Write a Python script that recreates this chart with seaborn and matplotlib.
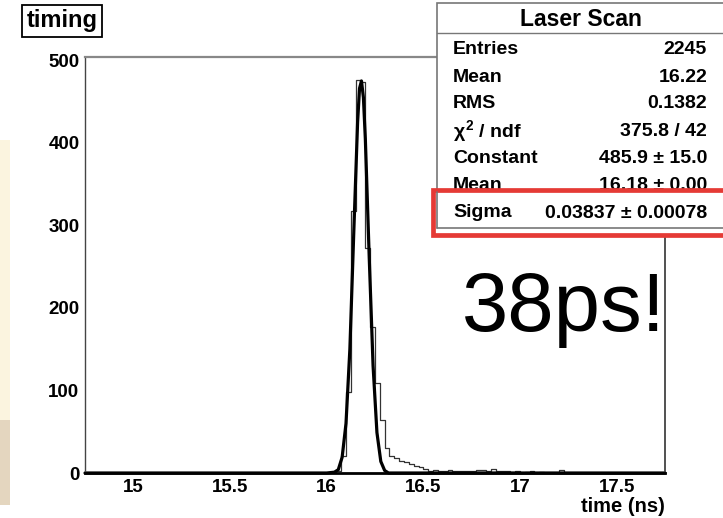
import numpy as np
import pandas as pd
import matplotlib
matplotlib.use("Agg")
import matplotlib.pyplot as plt
import seaborn as sns
from matplotlib.patches import Rectangle
from matplotlib.lines import Line2D
from matplotlib.ticker import MultipleLocator, FuncFormatter

W, H = 723, 518

# histogram "timing": 120 bins (25 ps) between 14.75 and 17.75 ns
time_lo, time_hi, n_bins = 14.75, 17.75, 120
peak_start = 16.05
peak_counts = [3, 20, 98, 318, 476, 474, 272, 177, 109, 64,
               30, 21, 18, 15, 13, 11, 8, 7, 5, 3,
               4, 2, 3, 4, 2, 3, 2, 3, 2, 4,
               4, 3, 5, 2, 2, 2, 1, 2, 0, 1,
               2, 0, 1, 0, 0, 0, 4]

# gaussian fit curve
fit_time = [14.75, 16.00, 16.04, 16.06, 16.08, 16.10, 16.12, 16.14, 16.16, 16.17,
            16.18, 16.19, 16.20, 16.22, 16.24, 16.26, 16.28, 16.30, 16.32, 17.75]
fit_value = [0, 0, 1, 4, 19, 60, 150, 290, 425, 466,
             475, 455, 405, 262, 130, 49, 14, 3, 0, 0]

stat_title = "Laser Scan"
stat_labels = ["Entries", "Mean", "RMS", r"$\chi^{2}$ / ndf", "Constant", "Mean"]
stat_values = ["2245", "16.22", "0.1382", "375.8 / 42", "485.9 ± 15.0", "16.18 ± 0.00"]
sigma_label = "Sigma"
sigma_value = "0.03837 ± 0.00078"


def px(x, y):
    # pixel position (from top-left) -> figure fraction
    return x / W, 1 - y / H


def main():
    sns.set_style("white")
    plt.rcParams['font.family'] = ['Liberation Sans', 'DejaVu Sans']
    plt.rcParams['text.color'] = 'black'
    plt.rcParams['xtick.color'] = 'black'
    plt.rcParams['ytick.color'] = 'black'
    plt.rcParams['axes.labelcolor'] = 'black'
    plt.rcParams['mathtext.fontset'] = 'custom'
    plt.rcParams['mathtext.rm'] = 'Liberation Sans:bold'
    plt.rcParams['mathtext.it'] = 'Liberation Sans:bold'
    plt.rcParams['mathtext.bf'] = 'Liberation Sans:bold'

    bin_w = (time_hi - time_lo) / n_bins
    edges = np.linspace(time_lo, time_hi, n_bins + 1)
    counts = np.zeros(n_bins)
    i0 = int(round((peak_start - time_lo) / bin_w))
    counts[i0:i0 + len(peak_counts)] = peak_counts
    hist_df = pd.DataFrame({"time": edges[:-1] + bin_w / 2, "count": counts})

    fig = plt.figure(figsize=(W / 100, H / 100), dpi=100)
    ax = fig.add_axes([85 / W, 1 - 473 / H, (665 - 85) / W, (473 - 57) / H])

    sns.histplot(data=hist_df, x="time", weights="count", bins=list(edges), element="step",
                 fill=False, color="#333333", linewidth=0.9, ax=ax)
    sns.lineplot(x=fit_time, y=fit_value, color="black", linewidth=2.3, ax=ax,
                 sort=False, clip_on=False)

    ax.set_xlim(time_lo, time_hi)
    ax.set_ylim(0, 504)
    ax.set_ylabel("")
    ax.set_xlabel("time (ns)", loc="right", fontsize=14.5, fontweight="bold", labelpad=1)

    ax.xaxis.set_major_locator(MultipleLocator(0.5))
    ax.xaxis.set_minor_locator(MultipleLocator(0.1))
    ax.yaxis.set_major_locator(MultipleLocator(100))
    ax.yaxis.set_minor_locator(MultipleLocator(20))
    ax.xaxis.set_major_formatter(FuncFormatter(lambda v, p: "%g" % v))
    ax.tick_params(axis="x", which="major", direction="in", length=8.5, width=0.8,
                   color="#333333", labelsize=13.5, pad=4)
    ax.tick_params(axis="x", which="minor", direction="in", length=4.7, width=0.8, color="#333333")
    ax.tick_params(axis="y", which="major", direction="in", length=11, width=0.8,
                   color="#333333", labelsize=13.5, pad=4)
    ax.tick_params(axis="y", which="minor", direction="in", length=6.5, width=0.8, color="#333333")
    for lab in ax.get_xticklabels() + ax.get_yticklabels():
        lab.set_fontweight("bold")

    ax.spines["bottom"].set_linewidth(2.0)
    ax.spines["bottom"].set_color("black")
    ax.spines["left"].set_linewidth(1.0)
    ax.spines["left"].set_color("#444444")
    ax.spines["top"].set_linewidth(1.6)
    ax.spines["top"].set_color("#888888")
    ax.spines["right"].set_linewidth(1.2)
    ax.spines["right"].set_color("#333333")

    # beige strip at the left edge of the slide
    fig.patches.append(Rectangle(px(0, 420), 10 / W, 280 / H, transform=fig.transFigure,
                                 facecolor="#fbf4df", edgecolor="none", zorder=1))
    fig.patches.append(Rectangle(px(0, 505), 10 / W, 85 / H, transform=fig.transFigure,
                                 facecolor="#e4d6bf", edgecolor="none", zorder=1))

    # histogram title box
    fig.text(*px(62, 21), "timing", ha="center", va="center", fontsize=17,
             fontweight="bold", zorder=5,
             bbox=dict(boxstyle="square,pad=0.18", facecolor="white", edgecolor="black", linewidth=1.3))

    # stats box
    fig.patches.append(Rectangle(px(437, 228), (W + 5 - 437) / W, (228 - 3) / H,
                                 transform=fig.transFigure, facecolor="white",
                                 edgecolor="#777777", linewidth=1.2, zorder=2))
    fig.lines.append(Line2D([437 / W, 1.0], [1 - 33 / H, 1 - 33 / H], transform=fig.transFigure,
                            color="#777777", linewidth=1.0, zorder=2.1))
    fig.text(*px(581, 20), stat_title, ha="center", va="center", fontsize=16.5,
             fontweight="bold", zorder=3)
    row_y = [50, 77, 104, 131, 159, 186]
    for lab, val, y in zip(stat_labels, stat_values, row_y):
        fig.text(*px(453, y), lab, ha="left", va="center", fontsize=14, fontweight="bold", zorder=3)
        fig.text(*px(707, y), val, ha="right", va="center", fontsize=14, fontweight="bold", zorder=3)

    # red highlight over the sigma row
    fig.patches.append(Rectangle(px(433, 235), (W + 10 - 433) / W, (235 - 190) / H,
                                 transform=fig.transFigure, facecolor="white",
                                 edgecolor="#e53a35", linewidth=3.4, zorder=4))
    fig.lines.append(Line2D([437 / W, 1.0], [1 - 228 / H, 1 - 228 / H], transform=fig.transFigure,
                            color="#777777", linewidth=1.2, zorder=4.1))
    fig.lines.append(Line2D([437 / W, 437 / W], [1 - 228 / H, 1 - 192 / H], transform=fig.transFigure,
                            color="#777777", linewidth=1.2, zorder=4.1))
    fig.text(*px(453, 212), sigma_label, ha="left", va="center", fontsize=14,
             fontweight="bold", zorder=5)
    fig.text(*px(707, 213), sigma_value, ha="right", va="center", fontsize=14,
             fontweight="bold", zorder=5)

    fig.text(*px(462, 309), "38ps!", ha="left", va="center", fontsize=60, zorder=5)

    fig.savefig("out.png", dpi=100)
    plt.close(fig)


if __name__ == "__main__":
    main()
